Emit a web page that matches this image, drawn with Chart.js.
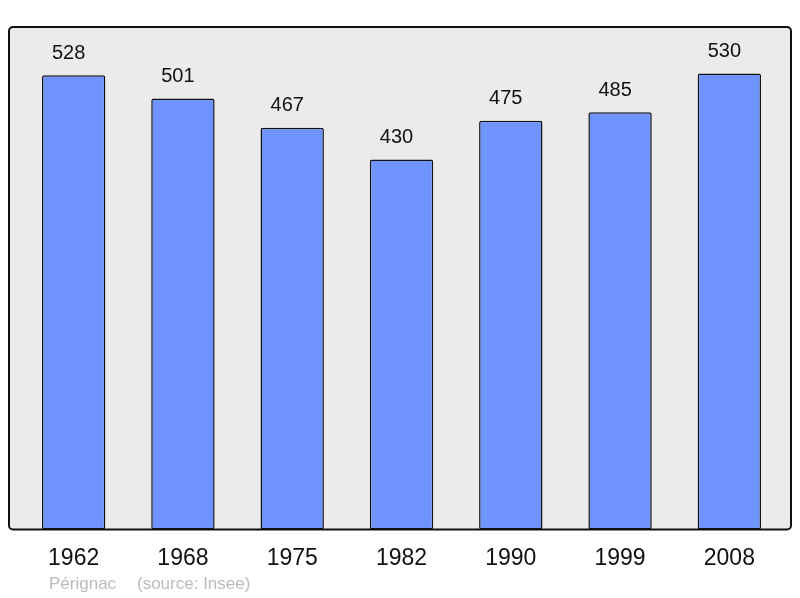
<!DOCTYPE html>
<html>
<head>
<meta charset="utf-8">
<script src="https://cdn.jsdelivr.net/npm/chart.js@4/dist/chart.umd.min.js"></script>
<style>
  html, body { margin: 0; padding: 0; background: #fff; }
  #wrap { width: 800px; height: 598px; }
</style>
</head>
<body>
<div id="wrap"><canvas id="c"></canvas></div>
<script>
// données population
const years = ["1962", "1968", "1975", "1982", "1990", "1999", "2008"];
const population = [528, 501, 467, 430, 475, 485, 530];
const townName = "Pérignac";
const sourceText = "(source: Insee)";

// fond gris + cadre arrondi autour de la zone du graphique
const framePlugin = {
  id: "frame",
  beforeDatasetsDraw(chart) {
    const a = chart.chartArea;
    const ctx = chart.ctx;
    const x0 = a.left - 10, x1 = a.right + 7;
    const y0 = a.top, y1 = a.bottom;
    ctx.save();
    ctx.beginPath();
    ctx.roundRect(x0, y0, x1 - x0, y1 - y0, 4);
    ctx.fillStyle = "#ebebeb";
    ctx.fill();
    ctx.lineWidth = 2;
    ctx.strokeStyle = "#111";
    ctx.stroke();
    ctx.restore();
  }
};

// valeurs au-dessus des barres + pied de page
const labelsPlugin = {
  id: "valueLabels",
  afterDatasetsDraw(chart) {
    const ctx = chart.ctx;
    const meta = chart.getDatasetMeta(0);
    ctx.save();
    ctx.font = "20px 'Liberation Sans', Arial, sans-serif";
    ctx.fillStyle = "#111";
    ctx.textAlign = "center";
    ctx.textBaseline = "middle";
    meta.data.forEach((bar, i) => {
      ctx.fillText(String(population[i]), bar.x - 5, bar.y - 22);
    });
    ctx.font = "17px 'Liberation Sans', Arial, sans-serif";
    ctx.fillStyle = "#bbbbbb";
    ctx.textAlign = "left";
    ctx.fillText(townName, 49, 584);
    ctx.fillText(sourceText, 137, 584);
    ctx.restore();
  }
};

new Chart(document.getElementById("c"), {
  type: "bar",
  data: {
    labels: years,
    datasets: [{
      data: population,
      backgroundColor: "#7094ff",
      borderColor: "#111",
      borderWidth: 1.5,
      borderRadius: 2,
      borderSkipped: false,
      categoryPercentage: 1,
      barPercentage: 0.58
    }]
  },
  options: {
    responsive: true,
    maintainAspectRatio: false,
    animation: false,
    devicePixelRatio: 1,
    layout: { padding: { left: 19, right: 16, top: 27, bottom: 19 } },
    plugins: { legend: { display: false }, tooltip: { enabled: false } },
    scales: {
      x: {
        grid: { display: false },
        border: { display: false },
        ticks: {
          color: "#111",
          padding: 7,
          font: { size: 23, family: "'Liberation Sans', Arial, sans-serif" }
        }
      },
      y: {
        display: false,
        min: 0,
        max: 584
      }
    }
  },
  plugins: [framePlugin, labelsPlugin]
});
</script>
</body>
</html>
